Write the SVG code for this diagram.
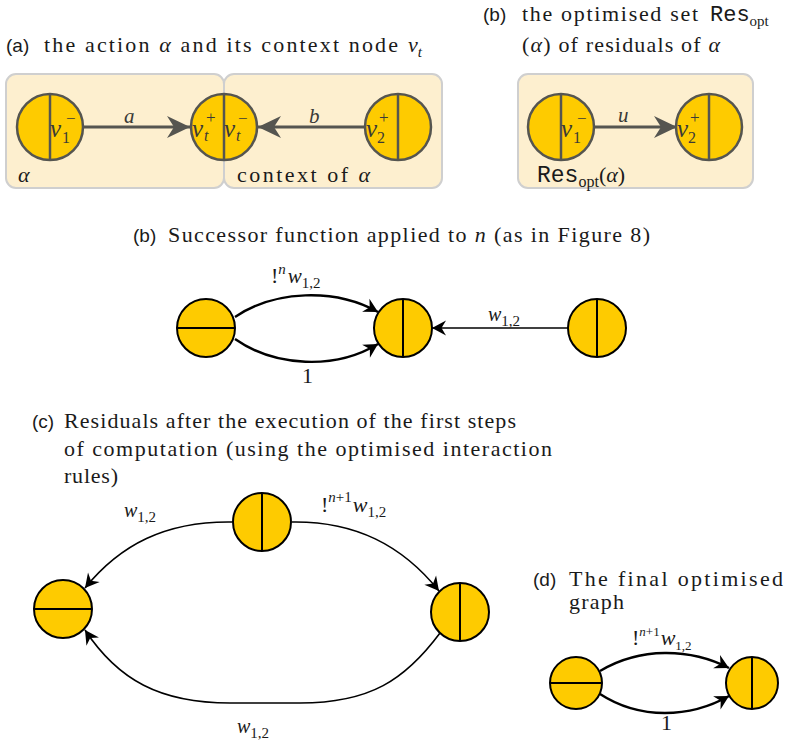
<svg xmlns="http://www.w3.org/2000/svg" width="786" height="743" viewBox="0 0 786 743">
  <style>
    .bg { fill: #ffffff; }
    .box { fill: #fdefcf; stroke: #cfcfcf; stroke-width: 2; }
    .ng { fill: #fecb00; stroke: #555550; stroke-width: 2.5; }
    .dg { stroke: #555550; stroke-width: 2.5; fill: none; }
    .nk { fill: #fecb00; stroke: #000; stroke-width: 2; }
    .dk { stroke: #000; stroke-width: 2; fill: none; }
    .eg { stroke: #555550; stroke-width: 3; fill: none; }
    .ek { stroke: #000; stroke-width: 2.4; fill: none; }
    .ek2 { stroke: #000; stroke-width: 1.6; fill: none; }
    .t { font-family: "Liberation Serif", "DejaVu Serif", serif; font-size: 22px; fill: #1a1a1a; }
    .s { font-family: "Liberation Sans", Arial, sans-serif; font-size: 19px; fill: #1a1a1a; }
    .m { font-family: "Liberation Serif", "DejaVu Serif", serif; font-style: italic; fill: #1a1a1a; }
    .mg { font-family: "Liberation Serif", "DejaVu Serif", serif; font-style: italic; fill: #3a3a36; }
    .tt { font-family: "Liberation Mono", "DejaVu Sans Mono", monospace; }
    .it { font-style: italic; }
    .up { font-style: normal; }
  </style>
  <defs>
    <marker id="arrG" markerUnits="userSpaceOnUse" viewBox="-25 -12 27 24" markerWidth="27" markerHeight="24" refX="0" refY="0" orient="auto">
      <path d="M0,0 L-23,-11 L-16,0 L-23,11 Z" fill="#555550"/>
    </marker>
    <marker id="arrK" markerUnits="userSpaceOnUse" viewBox="-16 -9 18 18" markerWidth="18" markerHeight="18" refX="0" refY="0" orient="auto">
      <path d="M0,0 L-14,-7.5 L-9.5,0 L-14,7.5 Z" fill="#000"/>
    </marker>
  </defs>
  <rect class="bg" x="0" y="0" width="786" height="743"/>

  <!-- captions -->
  <g id="titles">
    <text class="s" x="6" y="52">(a)</text>
    <text class="t" x="44" y="52" textLength="354" lengthAdjust="spacing">the action <tspan class="it">α</tspan> and its context node</text>
    <text class="m" x="408" y="52" font-size="22">v<tspan font-size="15" dy="5">t</tspan></text>

    <text class="s" x="483" y="21">(b)</text>
    <text class="t" x="522" y="21" textLength="176" lengthAdjust="spacing">the optimised set</text>
    <text class="t" x="710" y="21"><tspan class="tt" font-size="22">Res</tspan><tspan font-size="15" dy="5">opt</tspan></text>
    <text class="t" x="522" y="52" textLength="198" lengthAdjust="spacing">(<tspan class="it">α</tspan>) of residuals of <tspan class="it">α</tspan></text>

    <text class="s" x="133" y="242">(b)</text>
    <text class="t" x="168" y="242" textLength="482" lengthAdjust="spacing">Successor function applied to <tspan class="it">n</tspan> (as in Figure 8)</text>

    <text class="s" x="32" y="428">(c)</text>
    <text class="t" x="64" y="428" textLength="452" lengthAdjust="spacing">Residuals after the execution of the first steps</text>
    <text class="t" x="64" y="456" textLength="488" lengthAdjust="spacing">of computation (using the optimised interaction</text>
    <text class="t" x="64" y="483" textLength="54" lengthAdjust="spacing">rules)</text>

    <text class="s" x="533" y="586">(d)</text>
    <text class="t" x="569" y="586" textLength="214" lengthAdjust="spacing">The final optimised</text>
    <text class="t" x="569" y="609" textLength="55" lengthAdjust="spacing">graph</text>
  </g>

  <!-- shaded groupings of panel (a) and the residual set -->
  <g id="box-alpha"><rect class="box" x="6" y="74" width="218" height="114" rx="10"/></g>
  <g id="box-context"><rect class="box" x="224" y="74" width="218" height="114" rx="10"/></g>
  <g id="box-res"><rect class="box" x="518" y="74" width="235" height="114" rx="10"/></g>

  <g id="connectors">
    <line class="eg" x1="83" y1="127" x2="190" y2="127" marker-end="url(#arrG)"/>
    <line class="eg" x1="365" y1="127" x2="258" y2="127" marker-end="url(#arrG)"/>
    <line class="eg" x1="594" y1="127" x2="677" y2="127" marker-end="url(#arrG)"/>

    <path class="ek" d="M235,317 C275,290 335,288 378,312" marker-end="url(#arrK)"/>
    <path class="ek" d="M235,339 C275,367 335,370 378,344" marker-end="url(#arrK)"/>
    <line class="ek2" x1="568" y1="328" x2="432" y2="328" marker-end="url(#arrK)"/>

    <path class="ek2" d="M232,522 C165,521 120,545 85,588" marker-end="url(#arrK)"/>
    <path class="ek2" d="M292,522 C355,521 402,545 439,591" marker-end="url(#arrK)"/>
    <path class="ek2" d="M440,633 C405,680 370,703 300,703 L230,703 C160,703 118,680 85,630" marker-end="url(#arrK)"/>

    <path class="ek" d="M600,671 C640,647 690,648 729,668" marker-end="url(#arrK)"/>
    <path class="ek" d="M600,694 C640,720 690,718 729,696" marker-end="url(#arrK)"/>
  </g>

  <g id="edge-labels">
    <text class="mg" x="124" y="123" font-size="21">a</text>
    <text class="mg" x="309" y="123" font-size="21">b</text>
    <text class="mg" x="618" y="122" font-size="21">u</text>
    <text class="m" x="18" y="182" font-size="22">α</text>
    <text class="t" x="237" y="182" textLength="133" lengthAdjust="spacing">context of <tspan class="it">α</tspan></text>
    <text class="t" x="537" y="182"><tspan class="tt" font-size="23">Res</tspan><tspan font-size="16" dy="5">opt</tspan><tspan dy="-5">(</tspan><tspan class="it">α</tspan>)</text>

    <text class="t" x="271" y="283" font-size="20">!<tspan class="it" font-size="15" dy="-9">n</tspan><tspan class="it" font-size="21" dx="2" dy="9">w</tspan><tspan font-size="15" dy="5">1,2</tspan></text>
    <text class="t" x="302" y="383" font-size="21">1</text>
    <text class="m" x="488" y="321" font-size="20">w<tspan class="up" font-size="15" dy="5">1,2</tspan></text>

    <text class="m" x="124" y="517" font-size="20">w<tspan class="up" font-size="15" dy="5">1,2</tspan></text>
    <text class="t" x="321" y="512" font-size="20">!<tspan class="it" font-size="15" dy="-10">n</tspan><tspan font-size="15">+1</tspan><tspan class="it" dx="1" dy="10">w</tspan><tspan font-size="15" dy="5">1,2</tspan></text>
    <text class="m" x="237" y="733" font-size="20">w<tspan class="up" font-size="15" dy="5">1,2</tspan></text>

    <text class="t" x="632" y="645" font-size="18">!<tspan class="it" font-size="13" dy="-9">n</tspan><tspan font-size="13">+1</tspan><tspan class="it" dx="1" dy="9">w</tspan><tspan font-size="13" dy="5">1,2</tspan></text>
    <text class="t" x="661" y="730" font-size="20">1</text>
  </g>

  <!-- panel (a) nodes: split circles with port names -->
  <g id="v1">
    <circle class="ng" cx="50" cy="127" r="33"/>
    <line class="dg" x1="50" y1="94" x2="50" y2="160"/>
    <text class="mg" x="50" y="137" font-size="25">v</text>
    <text class="mg up" x="66" y="124" font-size="17">−</text>
    <text class="mg up" x="62" y="143" font-size="16">1</text>
  </g>
  <g id="vt">
    <circle class="ng" cx="224" cy="127" r="33"/>
    <line class="dg" x1="224" y1="94" x2="224" y2="160"/>
    <text class="mg" x="192" y="137" font-size="25">v</text>
    <text class="mg up" x="206" y="123" font-size="17">+</text>
    <text class="mg" x="204" y="141" font-size="16">t</text>
    <text class="mg" x="224" y="137" font-size="25">v</text>
    <text class="mg up" x="238" y="124" font-size="17">−</text>
    <text class="mg" x="236" y="141" font-size="16">t</text>
  </g>
  <g id="v2">
    <circle class="ng" cx="398" cy="127" r="33"/>
    <line class="dg" x1="398" y1="94" x2="398" y2="160"/>
    <text class="mg" x="366" y="137" font-size="25">v</text>
    <text class="mg up" x="379" y="123" font-size="17">+</text>
    <text class="mg up" x="377" y="143" font-size="16">2</text>
  </g>
  <g id="res-v1">
    <circle class="ng" cx="561" cy="127" r="33"/>
    <line class="dg" x1="561" y1="94" x2="561" y2="160"/>
    <text class="mg" x="561" y="137" font-size="25">v</text>
    <text class="mg up" x="577" y="124" font-size="17">−</text>
    <text class="mg up" x="573" y="143" font-size="16">1</text>
  </g>
  <g id="res-v2">
    <circle class="ng" cx="709" cy="127" r="33"/>
    <line class="dg" x1="709" y1="94" x2="709" y2="160"/>
    <text class="mg" x="677" y="137" font-size="25">v</text>
    <text class="mg up" x="690" y="123" font-size="17">+</text>
    <text class="mg up" x="688" y="143" font-size="16">2</text>
  </g>

  <!-- successor graph -->
  <g id="succ-left"><circle class="nk" cx="206" cy="328" r="29"/><line class="dk" x1="177" y1="328" x2="235" y2="328"/></g>
  <g id="succ-mid"><circle class="nk" cx="403" cy="328" r="29"/><line class="dk" x1="403" y1="299" x2="403" y2="357"/></g>
  <g id="succ-right"><circle class="nk" cx="597" cy="328" r="29"/><line class="dk" x1="597" y1="299" x2="597" y2="357"/></g>

  <!-- residual graph -->
  <g id="resid-top"><circle class="nk" cx="262" cy="522" r="29"/><line class="dk" x1="262" y1="493" x2="262" y2="551"/></g>
  <g id="resid-left"><circle class="nk" cx="63" cy="609" r="29"/><line class="dk" x1="34" y1="609" x2="92" y2="609"/></g>
  <g id="resid-right"><circle class="nk" cx="460" cy="612" r="29"/><line class="dk" x1="460" y1="583" x2="460" y2="641"/></g>

  <!-- final graph -->
  <g id="final-left"><circle class="nk" cx="576" cy="683" r="26"/><line class="dk" x1="550" y1="683" x2="602" y2="683"/></g>
  <g id="final-right"><circle class="nk" cx="752" cy="683" r="26"/><line class="dk" x1="752" y1="657" x2="752" y2="709"/></g>
</svg>
